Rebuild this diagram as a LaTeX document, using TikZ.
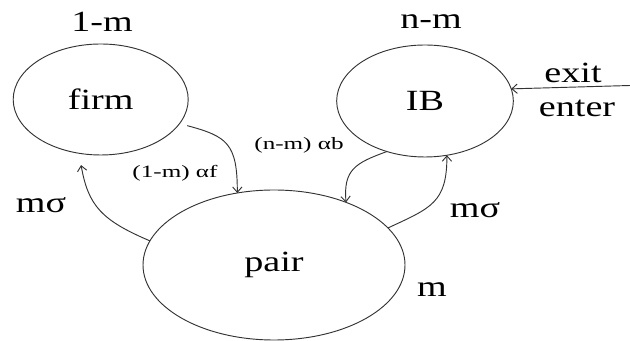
\documentclass[tikz,border=0pt]{standalone}
\usepackage{fontspec}
\setmainfont{Liberation Serif}[FakeStretch=1.3]
\newfontfamily\ratefont{Liberation Serif}[FakeStretch=1.45]
\usetikzlibrary{shapes,arrows.meta}
\tikzstyle{state}=[ellipse,draw,inner sep=0pt,outer sep=0pt,font=\fontsize{22}{24}\selectfont]
\tikzstyle{count}=[font=\fontsize{22}{24}\selectfont]
\tikzstyle{rate}=[font=\ratefont\fontsize{13}{15}\selectfont]
\tikzstyle{flow}=[draw,->]

\begin{document}
\begin{tikzpicture}[x=0.75pt,y=0.75pt,line width=0.7pt,draw=black!80,>={Straight Barb[length=4pt,width=7pt]}]
\useasboundingbox (0,0) rectangle (630,341);

% states
\node[state,minimum width=131.25pt,minimum height=83.25pt] (firm) at (100.7,241.5) {firm};
\node[state,minimum width=132.5pt,minimum height=84pt] (IB) at (425,240) {IB};
\node[state,minimum width=196.5pt,minimum height=112.5pt] (pair) at (274,76) {pair};

% sizes
\node[count] (firmsize) at (102,319) {1-m};
\node[count] (IBsize) at (431,319.5) {n-m};
\node[count] (pairsize) at (432,51.5) {m};

% flows
\path[flow,shorten <=6pt] (firm.-17) to[out=-15,in=90,looseness=1.4] (pair.117);
\path[flow] (IB.-127) to[out=-160,in=95,looseness=1.3] (pair.41);
\path[flow] (pair.18) to[out=25,in=-90,looseness=1.3] (IB.-68);
\path[flow,shorten >=9pt] (pair.169) to[out=157,in=-80,looseness=1.2] (firm.-112);

\coordinate (outside) at (630,255.5);
\path[flow] (outside) -- (IB.8);

% labels
\node[rate] (firmrate) at (175,167.5) {(1-m) αf};
\node[rate] (IBrate) at (299,195.5) {(n-m) αb};
\node[count] (leftsigma) at (41,135.5) {mσ};
\node[count] (rightsigma) at (475,131) {mσ};
\node[count] (exit) at (573,267.6) {exit};
\node[count] (enter) at (577,232.4) {enter};

\end{tikzpicture}
\end{document}
